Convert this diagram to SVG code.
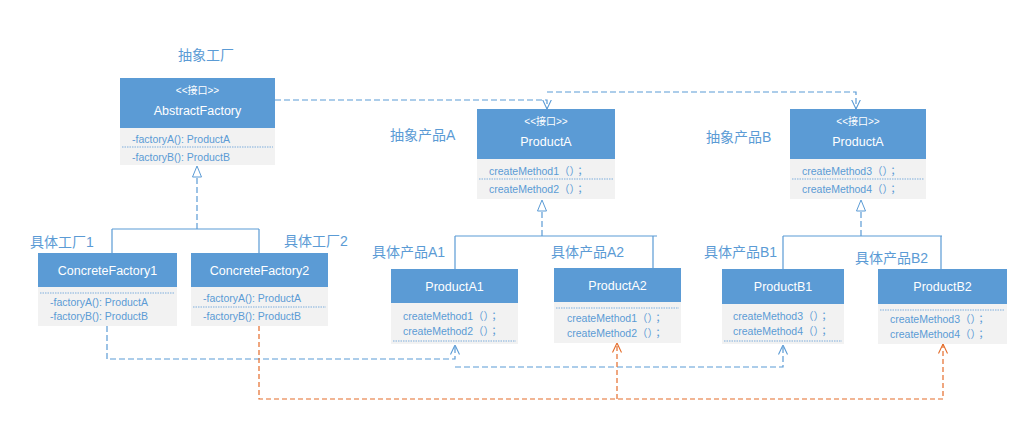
<svg xmlns="http://www.w3.org/2000/svg" width="1035" height="427" viewBox="0 0 1035 427">
<style>
.hd{fill:#5B9BD5}
.bd{fill:#F2F2F2}
.sep{stroke:#7FAEDC;stroke-width:1;stroke-dasharray:1.5 1;fill:none}
.ht{fill:#fff;font-family:"Liberation Sans","Noto Sans CJK SC",sans-serif;font-size:12.5px;text-anchor:middle}
.st{fill:#fff;font-family:"Liberation Sans","Noto Sans CJK SC",sans-serif;font-size:10px;text-anchor:middle}
.bt{fill:#5B9BD5;font-family:"Liberation Sans","Noto Sans CJK TC",sans-serif;font-size:10.5px}
.lb{fill:#5B9BD5;font-family:"Liberation Sans","Noto Sans CJK SC",sans-serif;font-size:14px}
.dsh{stroke:#5B9BD5;stroke-width:1.2;stroke-dasharray:6 3;fill:none}
.org{stroke:#E46C2A;stroke-width:1.2;stroke-dasharray:5 3;fill:none}
.sol{stroke:#5B9BD5;stroke-width:1.2;fill:none}
</style>
<defs>
<marker id="tri" viewBox="0 0 12 10" refX="11.5" refY="5" markerWidth="12" markerHeight="10" markerUnits="userSpaceOnUse" orient="auto"><path d="M0.5,0.5 L11.5,5 L0.5,9.5 Z" fill="#fff" stroke="#5B9BD5" stroke-width="1"/></marker>
<marker id="opb" viewBox="0 0 10 10" refX="9.5" refY="5" markerWidth="10" markerHeight="10" markerUnits="userSpaceOnUse" orient="auto"><path d="M0,0.5 L9.5,5 L0,9.5" fill="none" stroke="#5B9BD5" stroke-width="1.1"/></marker>
<marker id="opo" viewBox="0 0 10 10" refX="9.5" refY="5" markerWidth="10" markerHeight="10" markerUnits="userSpaceOnUse" orient="auto"><path d="M0,0.5 L9.5,5 L0,9.5" fill="none" stroke="#E46C2A" stroke-width="1.1"/></marker>
</defs>
<rect width="1035" height="427" fill="#fff"/>

<g id="labels">
<text class="lb" x="178" y="60">抽象工厂</text>
<text class="lb" x="30" y="247">具体工厂1</text>
<text class="lb" x="284" y="246">具体工厂2</text>
<text class="lb" x="390" y="140">抽象产品A</text>
<text class="lb" x="706" y="142">抽象产品B</text>
<text class="lb" x="372" y="257">具体产品A1</text>
<text class="lb" x="551" y="257">具体产品A2</text>
<text class="lb" x="704" y="257">具体产品B1</text>
<text class="lb" x="855" y="263">具体产品B2</text>
</g>

<g id="connectors">
<path class="dsh" d="M275,100 H547 V109" marker-end="url(#opb)"/>
<path class="dsh" d="M547,92 H856 V109" marker-end="url(#opb)"/>
<path class="dsh" d="M197,229 V166" marker-end="url(#tri)"/>
<path class="sol" d="M112,229 H259 M112,229 V253 M259,229 V253"/>
<path class="dsh" d="M542,236 V200" marker-end="url(#tri)"/>
<path class="sol" d="M455,236 H657 M455,236 V269 M653,236 V268"/>
<path class="dsh" d="M861,236 V200" marker-end="url(#tri)"/>
<path class="sol" d="M783,236 H942 M783,236 V269 M941,236 V269"/>
<path class="dsh" d="M107,326 V359 H455 V345" marker-end="url(#opb)"/>
<path class="dsh" d="M455,367 H783 V345" marker-end="url(#opb)"/>
<path class="org" d="M259,326 V399 H943 V344" marker-end="url(#opo)"/>
<path class="org" d="M617,399 V343" marker-end="url(#opo)"/>
</g>

<g id="AbstractFactory">
<rect class="hd" x="120" y="78" width="155" height="50"/>
<rect class="bd" x="120" y="128" width="155" height="37"/>
<line class="sep" x1="122" y1="147" x2="273" y2="147"/>
<text class="st" x="197.5" y="94">&lt;&lt;接口&gt;&gt;</text>
<text class="ht" x="197.5" y="115">AbstractFactory</text>
<text class="bt" x="132" y="143">-factoryA(): ProductA</text>
<text class="bt" x="132" y="161">-factoryB(): ProductB</text>
</g>

<g id="ProductA_iface">
<rect class="hd" x="477" y="109" width="138" height="50"/>
<rect class="bd" x="477" y="159" width="138" height="40"/>
<line class="sep" x1="479" y1="179" x2="613" y2="179"/>
<text class="st" x="546" y="125">&lt;&lt;接口&gt;&gt;</text>
<text class="ht" x="546" y="146">ProductA</text>
<text class="bt" x="489" y="174.5">createMethod1（）；</text>
<text class="bt" x="489" y="192.5">createMethod2（）；</text>
</g>

<g id="ProductB_iface">
<rect class="hd" x="790" y="109" width="136" height="50"/>
<rect class="bd" x="790" y="159" width="136" height="40"/>
<line class="sep" x1="792" y1="179" x2="924" y2="179"/>
<text class="st" x="858" y="125">&lt;&lt;接口&gt;&gt;</text>
<text class="ht" x="858" y="146">ProductA</text>
<text class="bt" x="802" y="174.5">createMethod3（）；</text>
<text class="bt" x="802" y="192.5">createMethod4（）；</text>
</g>

<g id="ConcreteFactory1">
<rect class="hd" x="38" y="253" width="139" height="34"/>
<rect class="bd" x="38" y="287" width="139" height="39"/>
<line class="sep" x1="40" y1="293" x2="175" y2="293"/>
<text class="ht" x="107.5" y="274.5">ConcreteFactory1</text>
<text class="bt" x="50" y="305.5">-factoryA(): ProductA</text>
<text class="bt" x="50" y="319.5">-factoryB(): ProductB</text>
</g>

<g id="ConcreteFactory2">
<rect class="hd" x="191" y="253" width="137" height="34"/>
<rect class="bd" x="191" y="287" width="137" height="39"/>
<line class="sep" x1="193" y1="307" x2="326" y2="307"/>
<text class="ht" x="259.5" y="274.5">ConcreteFactory2</text>
<text class="bt" x="203" y="301.5">-factoryA(): ProductA</text>
<text class="bt" x="203" y="319.5">-factoryB(): ProductB</text>
</g>

<g id="ProductA1">
<rect class="hd" x="391" y="269" width="127" height="34"/>
<rect class="bd" x="391" y="303" width="127" height="41"/>
<line class="sep" x1="393" y1="341" x2="516" y2="341"/>
<text class="ht" x="454.5" y="290.5">ProductA1</text>
<text class="bt" x="403" y="319.5">createMethod1（）；</text>
<text class="bt" x="403" y="334.5">createMethod2（）；</text>
</g>

<g id="ProductA2">
<rect class="hd" x="554" y="268" width="127" height="34"/>
<rect class="bd" x="554" y="302" width="127" height="41"/>
<line class="sep" x1="556" y1="308" x2="679" y2="308"/>
<text class="ht" x="617.5" y="289.5">ProductA2</text>
<text class="bt" x="567" y="321.5">createMethod1（）；</text>
<text class="bt" x="567" y="336.5">createMethod2（）；</text>
</g>

<g id="ProductB1">
<rect class="hd" x="722" y="269" width="122" height="35"/>
<rect class="bd" x="722" y="304" width="122" height="40"/>
<line class="sep" x1="724" y1="341" x2="842" y2="341"/>
<text class="ht" x="783" y="291">ProductB1</text>
<text class="bt" x="733" y="319.5">createMethod3（）；</text>
<text class="bt" x="733" y="334.5">createMethod4（）；</text>
</g>

<g id="ProductB2">
<rect class="hd" x="878" y="269" width="129" height="35"/>
<rect class="bd" x="878" y="304" width="129" height="40"/>
<line class="sep" x1="880" y1="310" x2="1005" y2="310"/>
<text class="ht" x="942.5" y="291">ProductB2</text>
<text class="bt" x="890" y="322.5">createMethod3（）；</text>
<text class="bt" x="890" y="337.5">createMethod4（）；</text>
</g>
</svg>
